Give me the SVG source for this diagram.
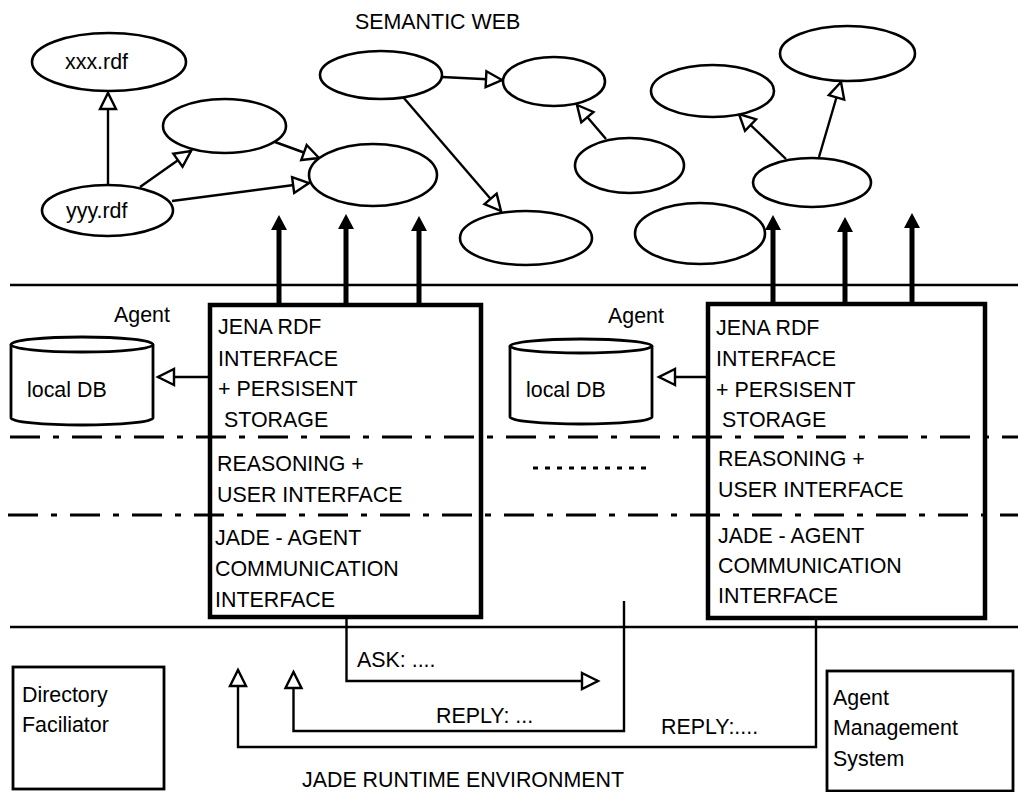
<svg xmlns="http://www.w3.org/2000/svg" width="1018" height="792" viewBox="0 0 1018 792">
<style>
text{font-family:"Liberation Sans",Arial,sans-serif;font-size:21.4px;fill:#000}
.ell{fill:#fff;stroke:#000;stroke-width:2.6}
.ln{fill:none;stroke:#000;stroke-width:2.4}
.thick{fill:none;stroke:#000;stroke-width:5}
.box{fill:none;stroke:#000;stroke-width:4.5}
.thin{fill:#fff;stroke:#000;stroke-width:2.8}
.dd{fill:none;stroke:#000;stroke-width:3;stroke-dasharray:30 13 6 13}
.ha{marker-end:url(#hollow)}
</style>
<defs>
<marker id="hollow" markerUnits="userSpaceOnUse" markerWidth="22" markerHeight="22" viewBox="0 0 22 22" refX="18" refY="11" orient="auto"><path d="M2,3 L18,11 L2,19 z" fill="#fff" stroke="#000" stroke-width="2.4"/></marker>
<marker id="solid" markerUnits="userSpaceOnUse" markerWidth="15" markerHeight="16" viewBox="0 0 15 16" refX="0" refY="8" orient="auto"><path d="M0,0 L15,8 L0,16 z" fill="#000"/></marker>
</defs>
<rect width="1018" height="792" fill="#fff"/>

<g id="layers">
<line x1="10" y1="285" x2="1018" y2="285" class="ln" stroke-width="2.6"/>
<line x1="10" y1="627" x2="1018" y2="627" class="ln" stroke-width="2.6"/>
<line x1="10" y1="437" x2="1018" y2="437" class="dd"/>
<line x1="8" y1="515" x2="1018" y2="515" class="dd"/>
<line x1="533" y1="468" x2="651" y2="468" stroke="#000" stroke-width="3" stroke-dasharray="5 7"/>
<text x="355" y="29">SEMANTIC WEB</text>
<text x="302" y="787">JADE RUNTIME ENVIRONMENT</text>
</g>

<g id="connectors">
<path class="ln ha" d="M108,185 V93"/>
<path class="ln ha" d="M140,187 L191,151"/>
<path class="ln ha" d="M275,142 L319,158"/>
<path class="ln ha" d="M172,201 L309,183"/>
<path class="ln ha" d="M442,77 L502,80"/>
<path class="ln ha" d="M403,97 L501,211"/>
<path class="ln ha" d="M606,139 L577,105"/>
<path class="ln ha" d="M786,159 L739,114"/>
<path class="ln ha" d="M819,157 L841,82"/>
<path class="thick" d="M279,305 V230" marker-end="url(#solid)"/>
<path class="thick" d="M346,305 V229" marker-end="url(#solid)"/>
<path class="thick" d="M419,305 V231" marker-end="url(#solid)"/>
<path class="thick" d="M773,304 V230" marker-end="url(#solid)"/>
<path class="thick" d="M845,304 V232" marker-end="url(#solid)"/>
<path class="thick" d="M912,304 V228" marker-end="url(#solid)"/>
<path class="ln ha" d="M210,377 H158"/>
<path class="ln ha" d="M708,377 H659"/>
<path class="ln ha" d="M346.5,617 V681 H598"/>
<path class="ln ha" d="M624,601 V731 H293.5 V672"/>
<path class="ln ha" d="M816,618 V747 H238 V670"/>
<text x="357" y="667">ASK: ....</text>
<text x="436" y="723">REPLY: ...</text>
<text x="661" y="734">REPLY:....</text>
</g>

<g id="xxx"><ellipse class="ell" cx="109" cy="62" rx="77" ry="29"/><text x="65" y="69">xxx.rdf</text></g>
<g id="yyy"><ellipse class="ell" cx="107.5" cy="210.5" rx="65.5" ry="25.5"/><text x="66" y="218">yyy.rdf</text></g>
<g id="n1"><ellipse class="ell" cx="224.5" cy="126" rx="61.5" ry="27"/></g>
<g id="n2"><ellipse class="ell" cx="373" cy="175" rx="64" ry="31"/></g>
<g id="n3"><ellipse class="ell" cx="381" cy="75" rx="61" ry="24"/></g>
<g id="n4"><ellipse class="ell" cx="554" cy="81.5" rx="51" ry="24.5"/></g>
<g id="n5"><ellipse class="ell" cx="526" cy="238" rx="66" ry="27"/></g>
<g id="n6"><ellipse class="ell" cx="629.5" cy="165.5" rx="54.5" ry="27.5"/></g>
<g id="n7"><ellipse class="ell" cx="700" cy="233.5" rx="65" ry="30.5"/></g>
<g id="n8"><ellipse class="ell" cx="712.5" cy="91" rx="61.5" ry="26"/></g>
<g id="n9"><ellipse class="ell" cx="847.5" cy="53.5" rx="67.5" ry="27.5"/></g>
<g id="n10"><ellipse class="ell" cx="812" cy="182.5" rx="59" ry="24.5"/></g>

<g id="db1">
<path class="thin" d="M11,344.5 V418 A71,7 0 0 0 153,418 V344.5"/>
<ellipse class="thin" cx="82" cy="344.5" rx="71" ry="7.5"/>
<text x="27" y="397">local DB</text>
</g>
<g id="db2">
<path class="thin" d="M510,346 V417 A71,7 0 0 0 652,417 V346"/>
<ellipse class="thin" cx="581" cy="346" rx="71" ry="7"/>
<text x="526" y="397">local DB</text>
</g>

<g id="agent1">
<rect class="box" x="210" y="305" width="271" height="312"/>
<text x="114" y="322">Agent</text>
<text x="218" y="334">JENA RDF</text>
<text x="218" y="366">INTERFACE</text>
<text x="218" y="396">+ PERSISENT</text>
<text x="224" y="427">STORAGE</text>
<text x="217" y="471">REASONING +</text>
<text x="217" y="502">USER INTERFACE</text>
<text x="215" y="545">JADE - AGENT</text>
<text x="215" y="576">COMMUNICATION</text>
<text x="215" y="607">INTERFACE</text>
</g>

<g id="agent2">
<rect class="box" x="708" y="304" width="277" height="314"/>
<text x="608" y="323">Agent</text>
<text x="716" y="335">JENA RDF</text>
<text x="716" y="366">INTERFACE</text>
<text x="716" y="397">+ PERSISENT</text>
<text x="722" y="427">STORAGE</text>
<text x="718" y="466">REASONING +</text>
<text x="718" y="497">USER INTERFACE</text>
<text x="718" y="543">JADE - AGENT</text>
<text x="718" y="573">COMMUNICATION</text>
<text x="718" y="603">INTERFACE</text>
</g>

<g id="df">
<rect class="thin" x="13" y="667" width="151" height="122"/>
<text x="22" y="702">Directory</text>
<text x="22" y="732">Faciliator</text>
</g>

<g id="ams">
<rect class="thin" x="827" y="671" width="186" height="120"/>
<text x="833" y="705">Agent</text>
<text x="833" y="735">Management</text>
<text x="833" y="766">System</text>
</g>
</svg>
